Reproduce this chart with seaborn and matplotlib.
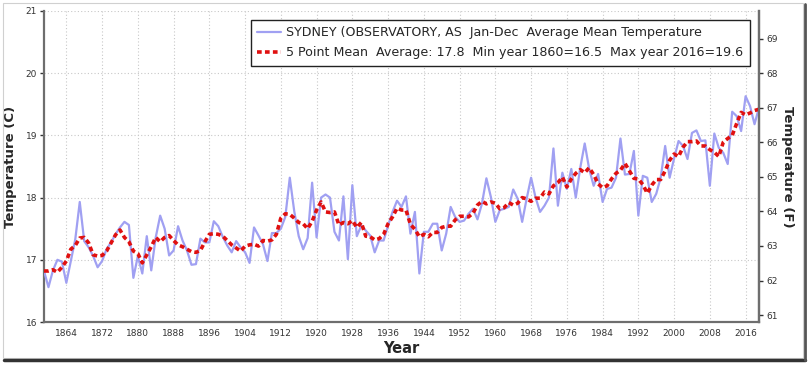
import numpy as np
import pandas as pd
import matplotlib
matplotlib.use("Agg")
import matplotlib.pyplot as plt
import seaborn as sns
from matplotlib.lines import Line2D

years = list(range(1859, 2020))

annual_temp = [
    16.82, 16.56, 16.83, 17.00, 16.97, 16.63, 16.98, 17.33, 17.93, 17.30,  # 1859-1868
    17.20, 17.06, 16.88, 16.98, 17.17, 17.28, 17.41, 17.52, 17.61, 17.56,  # 1869-1878
    16.71, 17.06, 16.78, 17.38, 16.83, 17.36, 17.71, 17.50, 17.07, 17.15,  # 1879-1888
    17.54, 17.31, 17.15, 16.92, 16.93, 17.34, 17.28, 17.28, 17.62, 17.54,  # 1889-1898
    17.37, 17.23, 17.12, 17.30, 17.20, 17.12, 16.95, 17.52, 17.39, 17.25,  # 1899-1908
    16.98, 17.43, 17.43, 17.50, 17.69, 18.32, 17.78, 17.38, 17.17, 17.35,  # 1909-1918
    18.24, 17.36, 18.00, 18.05, 18.00, 17.45, 17.31, 18.02, 17.01, 18.20,  # 1919-1928
    17.38, 17.55, 17.47, 17.39, 17.12, 17.31, 17.31, 17.55, 17.77, 17.95,  # 1929-1938
    17.85, 18.02, 17.42, 17.77, 16.78, 17.45, 17.45, 17.58, 17.58, 17.15,  # 1939-1948
    17.42, 17.85, 17.69, 17.61, 17.63, 17.74, 17.82, 17.65, 17.90, 18.31,  # 1949-1958
    18.01, 17.61, 17.80, 17.82, 17.85, 18.13, 17.98, 17.61, 17.98, 18.32,  # 1959-1968
    18.00, 17.77, 17.87, 18.00, 18.79, 17.87, 18.40, 18.14, 18.46, 18.00,  # 1969-1978
    18.48, 18.87, 18.46, 18.19, 18.38, 17.93, 18.14, 18.16, 18.32, 18.95,  # 1979-1988
    18.37, 18.38, 18.75, 17.71, 18.35, 18.32, 17.93, 18.06, 18.32, 18.83,  # 1989-1998
    18.32, 18.63, 18.91, 18.83, 18.62, 19.04, 19.08, 18.91, 18.92, 18.19,  # 1999-2008
    19.03, 18.80, 18.72, 18.54, 19.38, 19.31, 19.07, 19.63, 19.47, 19.18,  # 2009-2018
    19.45,                                                                  # 2019
]

five_point_mean = [
    16.82, 16.82, 16.84, 16.80, 16.88, 16.98, 17.17, 17.23, 17.35, 17.36,  # 1859-1868
    17.27, 17.08, 17.06, 17.07, 17.14, 17.27, 17.40, 17.48, 17.36, 17.29,  # 1869-1878
    17.14, 17.10, 16.95, 17.08, 17.21, 17.36, 17.29, 17.36, 17.39, 17.31,  # 1879-1888
    17.24, 17.21, 17.17, 17.13, 17.12, 17.15, 17.29, 17.41, 17.42, 17.41,  # 1889-1898
    17.38, 17.31, 17.24, 17.19, 17.14, 17.22, 17.24, 17.25, 17.22, 17.31,  # 1899-1908
    17.30, 17.32, 17.41, 17.67, 17.74, 17.73, 17.67, 17.60, 17.58, 17.50,  # 1909-1918
    17.62, 17.80, 17.93, 17.77, 17.76, 17.77, 17.56, 17.60, 17.58, 17.63,  # 1919-1928
    17.52, 17.60, 17.38, 17.37, 17.32, 17.34, 17.41, 17.58, 17.69, 17.83,  # 1929-1938
    17.80, 17.80, 17.57, 17.49, 17.37, 17.41, 17.37, 17.44, 17.44, 17.52,  # 1939-1948
    17.54, 17.54, 17.64, 17.70, 17.70, 17.69, 17.75, 17.88, 17.94, 17.90,  # 1949-1958
    17.93, 17.91, 17.82, 17.84, 17.92, 17.88, 17.91, 18.00, 17.98, 17.94,  # 1959-1968
    17.99, 17.99, 18.09, 18.06, 18.19, 18.24, 18.33, 18.17, 18.30, 18.39,  # 1969-1978
    18.45, 18.40, 18.48, 18.37, 18.22, 18.16, 18.19, 18.30, 18.39, 18.44,  # 1979-1988
    18.55, 18.43, 18.31, 18.30, 18.21, 18.07, 18.20, 18.29, 18.29, 18.43,  # 1989-1998
    18.60, 18.70, 18.66, 18.81, 18.90, 18.90, 18.91, 18.83, 18.83, 18.77,  # 1999-2008
    18.73, 18.66, 18.89, 18.95, 19.00, 19.19, 19.37, 19.33, 19.36, 19.40,  # 2009-2018
    19.42,                                                                  # 2019
]

x_ticks = list(range(1864, 2017, 8))
c_ticks = [16, 17, 18, 19, 20, 21]
f_ticks = [61, 62, 63, 64, 65, 66, 67, 68, 69]

label_raw = "SYDNEY (OBSERVATORY, AS  Jan-Dec  Average Mean Temperature"
label_mean = "5 Point Mean  Average: 17.8  Min year 1860=16.5  Max year 2016=19.6"

df = pd.DataFrame({"Year": years, "Temp": annual_temp, "Mean": five_point_mean})

sns.set_style("white")
plt.rcParams["font.family"] = ["DejaVu Sans"]

fig = plt.figure(figsize=(8.1, 3.68), dpi=100)
ax = fig.add_axes([44 / 810, 1 - 322 / 368, (759 - 44) / 810, (322 - 11) / 368])

blue = "#a0a0f2"
red = "#e01010"
sns.lineplot(data=df, x="Year", y="Temp", ax=ax, color=blue, lw=1.6, zorder=3)
sns.lineplot(data=df, x="Year", y="Mean", ax=ax, color=red, lw=2.6, zorder=4,
             linestyle=(0, (1.3, 0.9)))

ax.set_xlim(1859, 2019)
ax.set_ylim(16, 21)
ax.set_xticks(x_ticks)
ax.set_yticks(c_ticks)
ax.grid(True, which="major", color="#c8c8c8", linestyle=(0, (1, 2)), lw=0.8)
ax.tick_params(axis="both", labelsize=6.5, colors="#333333", length=3, width=1,
               direction="out", pad=2)
for side in ["left", "bottom"]:
    ax.spines[side].set_color("#6e6e6e")
    ax.spines[side].set_linewidth(1.6)
ax.spines["top"].set_visible(False)
ax.spines["right"].set_color("#6e6e6e")
ax.spines["right"].set_linewidth(1.6)
ax.set_xlabel("Year", fontsize=10.5, fontweight="bold", labelpad=2)
ax.set_ylabel("Temperature (C)", fontsize=9.5, fontweight="bold", labelpad=6)

ax2 = ax.twinx()
ax2.set_ylim(16 * 1.8 + 32, 21 * 1.8 + 32)
ax2.set_yticks(f_ticks)
ax2.tick_params(axis="y", labelsize=6.5, colors="#333333", length=3, width=1,
                direction="out", pad=2)
ax2.spines["top"].set_visible(False)
ax2.spines["left"].set_visible(False)
ax2.spines["bottom"].set_visible(False)
ax2.spines["right"].set_color("#6e6e6e")
ax2.spines["right"].set_linewidth(1.6)
ax2.set_ylabel("Temperature (F)", fontsize=9.5, fontweight="bold", rotation=270,
               labelpad=12)

handles = [Line2D([], [], color=blue, lw=1.6),
           Line2D([], [], color=red, lw=2.6, linestyle=(0, (1.3, 0.9)))]
leg = ax.legend(handles, [label_raw, label_mean], loc="upper right",
                bbox_to_anchor=(0.987, 0.971), borderaxespad=0, fontsize=9.1,
                frameon=True, fancybox=False, edgecolor="#222222", framealpha=1,
                handlelength=1.9, handletextpad=0.4, borderpad=0.5,
                labelspacing=0.55)
leg.get_frame().set_linewidth(1.0)
leg.set_zorder(10)

# screenshot frame with drop shadow
fig.add_artist(plt.Rectangle((3 / 810, 1 - 358 / 368), 800 / 810, 355 / 368,
                             transform=fig.transFigure, fill=False,
                             edgecolor="#d0d0d0", lw=0.8))
fig.add_artist(Line2D([4 / 810, 805 / 810], [1 - 360 / 368, 1 - 360 / 368],
                      transform=fig.transFigure, color="#333333", lw=2.5))
fig.add_artist(Line2D([805 / 810, 805 / 810], [1 - 360 / 368, 1 - 4 / 368],
                      transform=fig.transFigure, color="#555555", lw=2.0))

fig.savefig("out.png", dpi=100, facecolor="white")
